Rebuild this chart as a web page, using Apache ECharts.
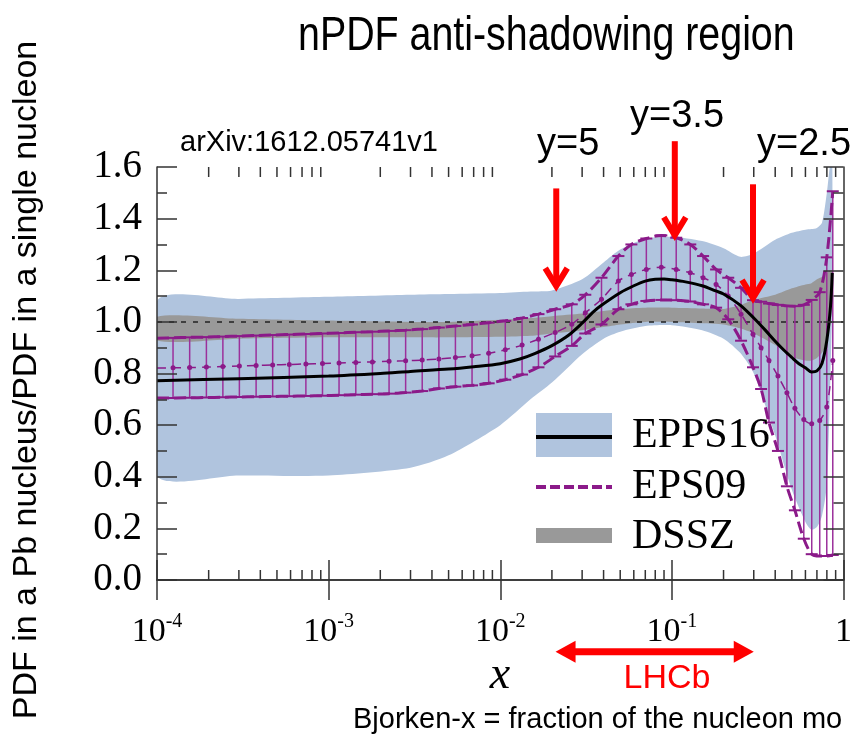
<!DOCTYPE html>
<html><head><meta charset="utf-8">
<script src="https://cdn.jsdelivr.net/npm/echarts/dist/echarts.min.js"></script>
<style>html,body{margin:0;padding:0;background:#fff}#c{width:855px;height:740px}</style>
</head><body><div id="c"></div><script>
// ---------- DATA ----------
// EPPS16 central curve
const epcX      = [1e-4, 3e-4, 1e-3, 2e-3, 3e-3, 5e-3, 7e-3, 0.01, 0.013, 0.016, 0.02, 0.025, 0.03, 0.035, 0.04, 0.05, 0.06, 0.07, 0.08, 0.09, 0.1, 0.12, 0.15, 0.18, 0.2, 0.25, 0.3, 0.35, 0.4, 0.45, 0.5, 0.55, 0.6, 0.65, 0.7, 0.75, 0.8, 0.84, 0.86];
const epCentral = [0.772, 0.780, 0.790, 0.800, 0.808, 0.817, 0.826, 0.838, 0.856, 0.878, 0.908, 0.948, 0.995, 1.040, 1.070, 1.113, 1.140, 1.158, 1.165, 1.166, 1.163, 1.155, 1.140, 1.120, 1.108, 1.065, 1.015, 0.968, 0.925, 0.890, 0.862, 0.838, 0.822, 0.806, 0.810, 0.840, 0.930, 1.060, 1.190];
// EPPS16 uncertainty band and DSSZ band share this x grid
const bandX     = [1e-4, 3e-4, 1e-3, 3e-3, 5e-3, 0.01, 0.015, 0.02, 0.03, 0.04, 0.05, 0.07, 0.1, 0.15, 0.2, 0.25, 0.3, 0.4, 0.5, 0.6, 0.65, 0.7, 0.75, 0.8, 0.84, 0.86];
const epUpper   = [1.081, 1.089, 1.097, 1.105, 1.108, 1.112, 1.118, 1.122, 1.165, 1.230, 1.280, 1.322, 1.330, 1.313, 1.285, 1.252, 1.265, 1.318, 1.345, 1.357, 1.360, 1.364, 1.385, 1.500, 1.620, 1.620];
const epLower   = [0.405, 0.405, 0.405, 0.435, 0.483, 0.600, 0.700, 0.765, 0.875, 0.935, 0.962, 0.984, 0.987, 0.968, 0.935, 0.880, 0.800, 0.560, 0.350, 0.225, 0.195, 0.205, 0.250, 0.370, 0.800, 1.100];
const dsUpper   = [1.020, 1.012, 1.005, 1.000, 1.000, 1.008, 1.015, 1.022, 1.032, 1.042, 1.050, 1.055, 1.055, 1.052, 1.050, 1.065, 1.085, 1.105, 1.130, 1.145, 1.150, 1.165, 1.175, 1.190, 1.200, 1.200];
const dsLower   = [0.928, 0.935, 0.940, 0.940, 0.940, 0.942, 0.946, 0.955, 0.968, 0.980, 0.990, 1.000, 1.000, 0.995, 0.990, 0.975, 0.955, 0.910, 0.865, 0.850, 0.850, 0.860, 0.880, 0.920, 1.000, 1.100];

// EPS09 on its own x grid (error-bar positions)
const e9X       = [1e-4, 1.24e-4, 1.55e-4, 1.94e-4, 2.42e-4, 3.02e-4, 3.78e-4, 4.72e-4, 5.90e-4, 7.37e-4, 9.21e-4, 1.15e-3, 1.44e-3, 1.80e-3, 2.25e-3, 2.81e-3, 3.51e-3, 4.39e-3, 5.48e-3, 6.85e-3, 8.56e-3, 1.07e-2, 1.34e-2, 1.67e-2, 2.09e-2, 2.61e-2, 0.0313, 0.0389, 0.0488, 0.0581, 0.0710, 0.0868, 0.106, 0.128, 0.152, 0.181, 0.213, 0.253, 0.297, 0.331, 0.368, 0.415, 0.468, 0.521, 0.587, 0.653, 0.727, 0.799, 0.866];
const e9Upper   = [0.937, 0.938, 0.940, 0.941, 0.943, 0.945, 0.947, 0.949, 0.951, 0.953, 0.955, 0.957, 0.960, 0.962, 0.965, 0.968, 0.972, 0.978, 0.984, 0.990, 0.997, 1.004, 1.015, 1.030, 1.049, 1.068, 1.105, 1.171, 1.255, 1.300, 1.323, 1.335, 1.326, 1.300, 1.255, 1.203, 1.171, 1.132, 1.084, 1.078, 1.071, 1.066, 1.062, 1.061, 1.066, 1.085, 1.115, 1.250, 1.506];
const e9Central = [0.821, 0.822, 0.823, 0.825, 0.827, 0.829, 0.831, 0.833, 0.835, 0.837, 0.839, 0.841, 0.843, 0.845, 0.847, 0.849, 0.852, 0.856, 0.862, 0.869, 0.878, 0.892, 0.910, 0.933, 0.959, 0.991, 1.035, 1.088, 1.158, 1.184, 1.203, 1.212, 1.203, 1.190, 1.171, 1.145, 1.100, 1.030, 0.952, 0.900, 0.850, 0.790, 0.725, 0.665, 0.622, 0.605, 0.618, 0.670, 0.850];
const e9Lower   = [0.705, 0.705, 0.706, 0.707, 0.708, 0.709, 0.710, 0.711, 0.712, 0.713, 0.714, 0.716, 0.718, 0.720, 0.722, 0.726, 0.732, 0.742, 0.749, 0.754, 0.762, 0.776, 0.796, 0.824, 0.866, 0.907, 0.955, 0.990, 1.049, 1.068, 1.081, 1.085, 1.084, 1.079, 1.068, 1.055, 1.010, 0.927, 0.824, 0.740, 0.610, 0.500, 0.363, 0.270, 0.160, 0.100, 0.093, 0.093, 0.097];

const refLineY = 1.0;
const xTickExponents = [-4, -3, -2, -1, 0];
const yTickValues = [0.0, 0.2, 0.4, 0.6, 0.8, 1.0, 1.2, 1.4, 1.6];
const legendNames = ['EPPS16', 'EPS09', 'DSSZ'];
// annotation arrows in data coordinates
const rapidityArrows = [
  {label: 'y=5',   x: 0.0212, y0: 1.517, y1: 1.127},
  {label: 'y=3.5', x: 0.104,  y0: 1.700, y1: 1.324},
  {label: 'y=2.5', x: 0.297,  y0: 1.533, y1: 1.081}
];
const lhcbRange = [0.021, 0.30];

// ---------- STYLE ----------
const X_MIN = 1e-4, X_MAX = 1, Y_MIN = 0, Y_MAX = 1.6;
const BLUE = '#b0c4de', GRAY = '#999999', PURPLE = '#8b1a89', PURPLE_BAR = '#9b309b', AXIS = '#333';

const chart = echarts.init(document.getElementById('c'), null, {renderer: 'canvas'});

const xMinor = [];
for (let k = -4; k < 0; k++) for (let m = 2; m <= 9; m++) xMinor.push(m * Math.pow(10, k));

function band(name, xs, lo, hi, color, z) {
  return {
    type: 'custom', name: name, z: z, silent: true, clip: true,
    data: [[xs[0], lo[0]]], encode: {x: 0, y: 1},
    renderItem: function (params, api) {
      const pts = [];
      for (let i = 0; i < xs.length; i++) pts.push(api.coord([xs[i], hi[i]]));
      for (let i = xs.length - 1; i >= 0; i--) pts.push(api.coord([xs[i], lo[i]]));
      return {type: 'polygon', shape: {points: pts, smooth: 0.25}, style: {fill: color}};
    }
  };
}

const series = [
  band('EPPS16 band', bandX, epLower, epUpper, BLUE, 1),
  band('DSSZ', bandX, dsLower, dsUpper, GRAY, 2),
  {
    type: 'line', name: 'ref', z: 3, silent: true, symbol: 'none',
    data: [[X_MIN, refLineY], [X_MAX, refLineY]],
    lineStyle: {color: '#222', width: 1.5, type: [5, 7]}
  },
  {
    type: 'custom', name: 'EPS09 bars', z: 4, silent: true, clip: true,
    data: e9X.map((x, i) => [x, e9Lower[i], e9Upper[i]]), encode: {x: 0, y: [1, 2]},
    renderItem: function (params, api) {
      const x = api.value(0);
      if (x <= X_MIN * 1.001) return null;
      const lo = api.coord([x, api.value(1)]), hi = api.coord([x, api.value(2)]);
      return {type: 'group', children: [
        {type: 'line', shape: {x1: lo[0], y1: lo[1], x2: hi[0], y2: hi[1]}, style: {stroke: PURPLE_BAR, lineWidth: 1.5}},
        {type: 'line', shape: {x1: lo[0] - 6, y1: lo[1], x2: lo[0] + 6, y2: lo[1]}, style: {stroke: PURPLE, lineWidth: 2}},
        {type: 'line', shape: {x1: hi[0] - 6, y1: hi[1], x2: hi[0] + 6, y2: hi[1]}, style: {stroke: PURPLE, lineWidth: 2}}
      ]};
    }
  },
  {
    type: 'line', name: 'EPS09 upper', z: 5, silent: true, symbol: 'none', smooth: 0.3,
    data: e9X.map((x, i) => [x, e9Upper[i]]),
    lineStyle: {color: PURPLE, width: 3, type: [12, 5]}
  },
  {
    type: 'line', name: 'EPS09 lower', z: 5, silent: true, symbol: 'none', smooth: 0.3,
    data: e9X.map((x, i) => [x, e9Lower[i]]),
    lineStyle: {color: PURPLE, width: 3, type: [12, 5]}
  },
  {
    type: 'line', name: 'EPS09', z: 5, silent: true, symbol: 'circle', symbolSize: 5, smooth: 0.3,
    data: e9X.map((x, i) => i === 0 ? {value: [x, e9Central[i]], symbol: 'none'} : [x, e9Central[i]]),
    itemStyle: {color: PURPLE},
    lineStyle: {color: PURPLE, width: 1.5, type: [9, 6]}
  },
  {
    type: 'line', name: 'EPPS16', z: 6, silent: true, symbol: 'none', smooth: 0.3,
    data: epcX.map((x, i) => [x, epCentral[i]]),
    lineStyle: {color: '#000', width: 3}
  },
  {
    type: 'custom', name: 'minor ticks', z: 20, silent: true,
    data: xMinor.map(v => [v, 0]), encode: {x: 0, y: 1},
    renderItem: function (params, api) {
      const b = api.coord([api.value(0), Y_MIN]), t = api.coord([api.value(0), Y_MAX]);
      return {type: 'group', children: [
        {type: 'line', shape: {x1: b[0], y1: b[1], x2: b[0], y2: b[1] - 10}, style: {stroke: AXIS, lineWidth: 1.5}},
        {type: 'line', shape: {x1: t[0], y1: t[1], x2: t[0], y2: t[1] + 10}, style: {stroke: AXIS, lineWidth: 1.5}}
      ]};
    }
  }
];

const xLabelFmt = function (v) {
  const e = Math.round(Math.log10(v));
  if (xTickExponents.indexOf(e) < 0) return '';
  return e === 0 ? '{b|1}' : '{b|10}{e|' + e + '}';
};

const axisCommon = {
  axisLine: {show: true, lineStyle: {color: AXIS, width: 1.5}},
  axisTick: {show: true, inside: true, length: 20, lineStyle: {color: AXIS, width: 1.5}},
  splitLine: {show: false}
};

const option = {
  animation: false,
  grid: {left: 157, right: 9, top: 167, bottom: 160, containLabel: false},
  xAxis: [
    Object.assign({type: 'log', logBase: 10, min: X_MIN, max: X_MAX, position: 'bottom', z: 10,
      axisLabel: {formatter: xLabelFmt, margin: 32,
        rich: {b: {fontFamily: 'Liberation Serif', fontSize: 34, color: '#000', lineHeight: 40},
               e: {fontFamily: 'Liberation Serif', fontSize: 20, color: '#000', lineHeight: 40, verticalAlign: 'top'}}}}, axisCommon),
    Object.assign({type: 'log', logBase: 10, min: X_MIN, max: X_MAX, position: 'top', z: 10, axisLabel: {show: false}}, axisCommon)
  ],
  yAxis: [
    Object.assign({type: 'value', min: Y_MIN, max: Y_MAX, interval: 0.2, position: 'left', z: 10,
      minorTick: {show: true, splitNumber: 2, length: 10, lineStyle: {color: AXIS, width: 1.5}},
      axisLabel: {formatter: v => yTickValues.some(t => Math.abs(t - v) < 1e-6) ? v.toFixed(1) : '', margin: 15,
        fontFamily: 'Liberation Serif', fontSize: 39, color: '#000'}}, axisCommon),
    Object.assign({type: 'value', min: Y_MIN, max: Y_MAX, interval: 0.2, position: 'right', z: 10,
      minorTick: {show: true, splitNumber: 2, length: 10, lineStyle: {color: AXIS, width: 1.5}},
      axisLabel: {show: false}}, axisCommon)
  ],
  series: series
};
chart.setOption(option);

// ---------- ANNOTATIONS ----------
const px = (x, y) => chart.convertToPixel({xAxisIndex: 0, yAxisIndex: 0}, [x, y]);
const RED = '#ff0000';
const g = [];
const SANS = '"Liberation Sans", Arial, sans-serif';
g.push({type: 'text', x: 298, y: 37, scaleX: 0.82, style: {text: 'nPDF anti-shadowing region', font: '48px ' + SANS, fill: '#000', verticalAlign: 'middle'}});
g.push({type: 'text', x: 180, y: 143, style: {text: 'arXiv:1612.05741v1', font: '29px ' + SANS, fill: '#000', verticalAlign: 'middle'}});
const arrowLabelPos = [[537, 145], [630, 117], [757, 145]];
rapidityArrows.forEach((a, i) => {
  const p0 = px(a.x, a.y0), p1 = px(a.x, a.y1);
  g.push({type: 'line', z: 100, shape: {x1: p0[0], y1: p0[1], x2: p1[0], y2: p1[1] - 3}, style: {stroke: RED, lineWidth: 6}});
  g.push({type: 'polyline', z: 100, shape: {points: [[p1[0] - 11, p1[1] - 21], [p1[0], p1[1] - 3], [p1[0] + 11, p1[1] - 21]]},
    style: {stroke: RED, lineWidth: 6, fill: null, lineJoin: 'miter'}});
  g.push({type: 'text', z: 100, x: arrowLabelPos[i][0], y: arrowLabelPos[i][1], style: {text: a.label, font: '38px ' + SANS, fill: '#000', verticalAlign: 'middle'}});
});
// LHCb double arrow
const la = px(lhcbRange[0], -0.278), lb = px(lhcbRange[1], -0.278);
g.push({type: 'line', z: 100, shape: {x1: la[0] + 15, y1: la[1], x2: lb[0] - 15, y2: lb[1]}, style: {stroke: RED, lineWidth: 7}});
g.push({type: 'polygon', z: 100, shape: {points: [[la[0], la[1]], [la[0] + 20, la[1] - 11], [la[0] + 20, la[1] + 11]]}, style: {fill: RED}});
g.push({type: 'polygon', z: 100, shape: {points: [[lb[0], lb[1]], [lb[0] - 20, lb[1] - 11], [lb[0] - 20, lb[1] + 11]]}, style: {fill: RED}});
g.push({type: 'text', z: 100, x: 667, y: 679, style: {text: 'LHCb', font: '34px ' + SANS, fill: RED, align: 'center', verticalAlign: 'middle'}});
g.push({type: 'text', z: 100, x: 500, y: 676, style: {text: 'x', font: 'italic 46px "Liberation Serif", serif', fill: '#000', align: 'center', verticalAlign: 'middle'}});
g.push({type: 'text', z: 100, x: 353, y: 720, style: {text: 'Bjorken-x = fraction of the nucleon mo', font: '29px ' + SANS, fill: '#000', verticalAlign: 'middle'}});
g.push({type: 'text', z: 100, x: 27, y: 380, rotation: Math.PI / 2, style: {text: 'PDF in a Pb nucleus/PDF in a single nucleon', font: '34px ' + SANS, fill: '#000', align: 'center', verticalAlign: 'middle'}});
// legend
g.push({type: 'rect', z: 50, shape: {x: 536, y: 413, width: 76, height: 44}, style: {fill: BLUE}});
g.push({type: 'line', z: 51, shape: {x1: 536, y1: 437, x2: 612, y2: 437}, style: {stroke: '#000', lineWidth: 4}});
g.push({type: 'line', z: 51, shape: {x1: 536, y1: 487, x2: 612, y2: 487}, style: {stroke: PURPLE, lineWidth: 4, lineDash: [10, 4]}});
g.push({type: 'rect', z: 50, shape: {x: 536, y: 528, width: 76, height: 15}, style: {fill: GRAY}});
[[legendNames[0], 436], [legendNames[1], 487], [legendNames[2], 537]].forEach(t => {
  g.push({type: 'text', z: 51, x: 632, y: t[1], style: {text: t[0], font: '42px "Liberation Serif", serif', fill: '#000', verticalAlign: 'middle'}});
});
chart.setOption({graphic: g});
</script></body></html>
